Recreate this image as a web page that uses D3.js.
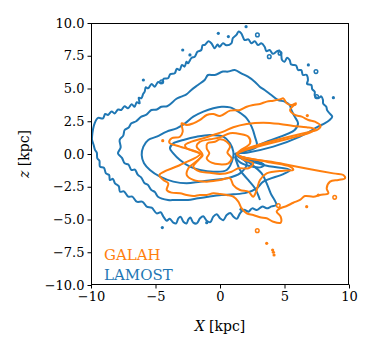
<!DOCTYPE html>
<html lang="en">
<head>
<meta charset="UTF-8">
<title>GALAH vs LAMOST</title>
<style>
	body { margin: 0; background: #fff; }
	text { font-family: "DejaVu Serif", serif; }
</style>
</head>
<body>
<svg id="cont" width="374" height="351"></svg>
<script src="https://cdn.jsdelivr.net/npm/d3@7"></script>
<script>
	// axis ticks
	let xTicks = [-10, -5, 0, 5, 10];
	let zTicks = [-10, -7.5, -5, -2.5, 0, 2.5, 5, 7.5, 10];

	// LAMOST contours, [X, z] in kpc, outer to inner
	let lamost1 = [[-9.92,1.32],[-9.72,2.34],[-9.45,2.75],[-9.07,2.72],[-8.9,3.05],[-8.68,2.98],[-8.4,3.25],[-8.17,3.1],[-7.9,3.4],[-7.65,3.36],[-7.4,3.65],[-7.13,3.49],[-6.85,3.8],[-6.62,3.61],[-6.45,3.95],[-6.23,3.87],[-6.3,4.3],[-6.1,4.25],[-5.95,4.6],[-5.84,4.76],[-5.75,5.1],[-5.58,5.01],[-5.3,5.35],[-5.06,5.14],[-4.8,5.5],[-4.55,5.4],[-4.35,5.75],[-4.03,5.78],[-3.85,6.1],[-3.51,6.16],[-3.35,6.5],[-3.13,6.41],[-2.95,6.8],[-2.74,6.67],[-2.6,7.05],[-2.48,6.92],[-2.2,7.35],[-1.96,7.43],[-1.75,7.8],[-1.45,7.94],[-1.35,8.3],[-1.19,8.32],[-0.9,8.6],[-0.67,8.45],[-0.41,8.07],[-0.2,8.35],[-0.03,8.19],[0.23,8.45],[0.5,8.3],[0.88,8.45],[1.0,8.85],[1.27,9.09],[1.45,9.35],[1.65,9.21],[1.91,8.7],[2.2,8.75],[2.43,8.45],[2.7,8.6],[2.95,8.32],[3.2,8.45],[3.46,8.19],[3.6,7.85],[3.85,7.94],[4.1,7.65],[4.37,7.81],[4.6,7.9],[4.75,7.56],[4.8,7.2],[5.01,7.05],[5.2,7.35],[5.4,7.18],[5.5,6.85],[5.66,6.8],[5.9,6.75],[6.05,6.41],[6.3,6.4],[6.43,6.03],[6.7,6.05],[6.82,5.65],[6.75,5.35],[7.08,5.27],[7.15,4.95],[7.34,4.76],[7.35,4.45],[7.6,4.25],[7.85,4.4],[7.98,4.12],[8.0,3.85],[8.24,3.61],[8.3,3.35],[8.5,3.1],[8.7,2.85],[8.5,2.6],[8.11,2.34],[7.6,2.09],[6.2,1.32],[4.13,0.56],[2.07,0.1],[1.16,0],[2.33,-0.71],[3.23,-1.48],[3.62,-2.24],[3.93,-3.0],[4.37,-3.89],[4.0,-4.0],[3.62,-4.15],[3.3,-4.0],[2.84,-4.28],[2.5,-4.15],[2.2,-4.4],[1.85,-4.25],[1.55,-4.53],[1.3,-4.95],[1.03,-4.78],[0.8,-4.5],[0.52,-4.66],[0.25,-5.05],[0,-4.91],[-0.25,-4.6],[-0.52,-4.78],[-0.75,-5.2],[-1.03,-5.09],[-1.3,-4.75],[-1.55,-4.91],[-1.8,-5.3],[-2.07,-5.24],[-2.3,-4.85],[-2.45,-4.99],[-2.6,-5.3],[-2.84,-5.17],[-3.05,-4.8],[-3.23,-4.91],[-3.4,-5.3],[-3.62,-5.24],[-3.9,-4.95],[-4.13,-5.09],[-4.39,-4.78],[-4.6,-4.45],[-4.91,-4.53],[-5.3,-4.1],[-5.68,-4.02],[-6.0,-3.65],[-6.46,-3.64],[-6.8,-3.25],[-7.11,-3.26],[-7.45,-2.85],[-7.75,-2.88],[-7.85,-2.45],[-8.14,-2.24],[-8.3,-1.9],[-8.53,-1.99],[-8.6,-1.6],[-8.84,-1.48],[-9.0,-1.05],[-9.3,-0.97],[-9.35,-0.5],[-9.51,-0.33],[-9.55,0.1],[-9.69,0.31],[-9.8,0.7],[-9.92,1.07]];
	let lamost2 = [[-7.91,0.05],[-7.7,0.5],[-7.78,1.07],[-7.5,1.4],[-7.39,1.83],[-7.1,2.0],[-6.87,2.34],[-6.5,2.5],[-6.1,2.85],[-5.7,3.0],[-5.32,3.36],[-4.9,3.4],[-4.55,3.61],[-4.1,3.65],[-3.77,3.87],[-3.4,4.2],[-3.0,4.38],[-2.6,4.55],[-2.22,4.89],[-1.71,5.27],[-1.19,5.65],[-0.93,6.03],[-0.41,6.03],[0.23,6.29],[0.62,6.29],[1.14,6.41],[1.65,6.16],[2.17,5.9],[2.69,5.52],[3.08,5.14],[3.46,4.89],[3.98,4.5],[4.5,4.12],[5.01,4.0],[5.4,3.74],[5.53,3.36],[5.79,2.85],[6.05,2.34],[5.79,1.83],[3.62,0.94],[1.55,0.1],[1.29,-0.05],[3.36,-0.84],[5.43,-1.22],[4.91,-1.53],[3.36,-2.11],[2.84,-2.62],[2.07,-2.95],[1.03,-3.08],[0.1,-3.13],[-0.93,-3.26],[-1.71,-3.38],[-2.48,-3.51],[-3.0,-3.51],[-3.51,-3.51],[-4.03,-3.51],[-4.81,-3.26],[-5.05,-2.9],[-5.32,-2.75],[-5.6,-2.35],[-5.84,-2.24],[-6.1,-1.8],[-6.36,-1.6],[-6.6,-1.2],[-6.87,-1.22],[-7.1,-0.8],[-7.39,-0.71],[-7.6,-0.3]];
	let lamost3 = [[-6.07,-0.08],[-5.94,0.56],[-5.56,1.07],[-4.91,1.32],[-4.13,1.71],[-3.36,1.96],[-2.71,2.34],[-2.07,2.85],[-1.29,3.23],[-0.52,3.49],[0.13,3.61],[0.78,3.56],[1.42,3.23],[2.07,2.72],[2.45,2.09],[2.71,1.32],[2.84,0.56],[1.42,-0.03],[2.07,-0.71],[1.55,-1.48],[0.52,-1.86],[-0.52,-1.98],[-1.55,-2.11],[-2.58,-2.24],[-3.62,-2.11],[-4.65,-1.73],[-5.43,-1.22],[-5.89,-0.71]];
	let lamost4 = [[-3.88,0.43],[-3.62,0.81],[-2.84,1.07],[-1.81,1.32],[-0.78,1.45],[0.26,1.32],[0.78,0.81],[1.03,0.18],[1.03,-0.2],[0.52,-1.22],[-0.52,-1.35],[-1.55,-1.22],[-2.33,-0.97],[-3.1,-0.46],[-3.62,0.05]];
	let lamost5 = [[1.2,-0.15],[2.3,-0.4],[3.4,-0.8],[3.2,-1.0],[2.2,-0.9],[1.5,-0.6]];
	let lamostTail = [[1.16,-0.2],[1.55,-1.22],[2.2,-2.0],[2.71,-2.62],[3.1,-3.51]];
	let lamostDots = [[2.02,9.72],[-0.13,9.21],[0.65,8.96],[-2.89,7.94],[-2.33,7.56],[-5.94,5.65],[6.85,6.8],[8.79,4.3],[-4.47,-5.62],[-1.03,-5.24],[1.63,-4.22]];
	let lamostRings = [[2.9,9.09],[4.65,7.69],[3.82,7.43],[-4.52,5.52],[7.44,6.29],[7.49,4.38]];

	// GALAH contours
	let galah1 = [[-2.97,2.34],[-2.58,2.21],[-2.07,2.34],[-1.55,2.6],[-1.03,2.98],[-0.52,3.05],[0,2.9],[0.78,3.31],[1.55,3.36],[2.07,3.61],[2.58,3.74],[3.1,3.82],[3.62,4.0],[4.13,4.07],[4.65,4.17],[4.91,4.25],[5.17,3.87],[5.56,3.74],[5.89,3.87],[5.43,3.36],[5.81,2.98],[6.33,2.85],[6.85,2.6],[7.36,2.47],[7.8,2.14],[7.49,1.83],[6.98,1.71],[1.29,0],[4.91,-0.76],[8.79,-1.48],[9.56,-1.6],[9.69,-1.86],[9.17,-1.98],[8.53,-2.11],[8.27,-2.62],[8.4,-3.0],[7.75,-3.13],[7.24,-3.26],[6.59,-3.21],[6.2,-3.51],[5.68,-3.72],[5.17,-3.97],[4.65,-4.15],[4.39,-4.4],[4.7,-4.78],[4.7,-5.24],[4.13,-5.17],[3.62,-4.91],[3.1,-4.83],[2.58,-4.66],[2.07,-4.53],[1.68,-4.15],[1.42,-3.64],[1.03,-3.26],[0.52,-3.13],[0,-3.05],[-0.52,-3.0],[-1.03,-3.13],[-1.55,-3.13],[-2.07,-3.21],[-2.58,-3.13],[-3.1,-3.0],[-3.75,-2.95],[-4.13,-2.75],[-4.01,-2.24],[-4.39,-1.98],[-4.7,-1.6],[-3.1,-0.84],[-1.55,0],[-3.1,0.56],[-3.93,0.87],[-3.75,1.2],[-3.1,1.32],[-2.89,1.71]];
	let galah2 = [[-2.71,0.69],[-2.2,0.94],[-1.29,1.2],[-0.52,1.45],[0.26,1.71],[1.03,2.04],[2.07,2.29],[3.36,2.39],[4.65,2.29],[5.68,2.14],[6.72,2.04],[7.36,1.88],[6.98,1.63],[1.34,-0.03],[3.62,-0.59],[5.43,-0.97],[5.68,-1.22],[4.91,-1.27],[3.62,-1.48],[3.1,-1.98],[2.84,-2.75],[2.58,-3.26],[2.2,-2.88],[1.55,-2.75],[1.03,-2.37],[0.78,-1.86],[0,-1.98],[-1.03,-2.11],[-2.07,-1.98],[-2.58,-1.6],[-2.45,-1.09],[-1.42,-0.1],[-2.58,0.43]];
	let galah3 = [[-1.81,0.56],[-1.55,0.94],[-0.78,1.12],[0,1.27],[0.78,1.58],[1.55,1.53],[2.2,1.32],[2.33,0.81],[1.55,0.25],[1.34,0],[1.81,-0.41],[2.58,-0.71],[2.2,-1.09],[1.42,-1.09],[0.9,-1.35],[0,-1.53],[-0.78,-1.43],[-1.55,-1.35],[-2.07,-0.97],[-1.68,-0.46],[-1.34,-0.08],[-1.55,0.25]];
	let galah4 = [[-1.03,0.43],[-0.98,0.81],[-0.39,0.94],[0,1.12],[0.52,0.94],[0.78,0.56],[0.57,0.1],[0.9,-0.33],[0.65,-0.71],[0,-0.79],[-0.65,-0.66],[-1.03,-0.33],[-0.83,0.05]];
	let galahDots = [[-4.44,1.02],[5.81,3.79],[6.77,2.93],[7.62,-3.13],[6.72,-4.02],[3.62,-6.82],[4.08,-7.33],[4.14,-7.5],[4.19,-7.71]];
	let galahRings = [[8.89,-3.31],[4.52,-3.94],[2.89,-5.85]];

	let names = ["GALAH", "LAMOST"];
	let colors = ["#ff7f0e", "#1f77b4"];

	let svg = d3.select("#cont");
	let mLeft = 91, mRight = 349, mTop = 23, mBottom = 285;

	let x = d3.scaleLinear().domain([-10, 10]).range([mLeft, mRight]);
	let y = d3.scaleLinear().domain([-10, 10]).range([mBottom, mTop]);

	svg.append("clipPath").attr("id", "clip")
		.append("rect")
		.attr("x", mLeft).attr("y", mTop)
		.attr("width", mRight - mLeft).attr("height", mBottom - mTop);

	let body = svg.append("g").attr("clip-path", "url(#clip)");

	let ring = d3.line()
		.x(d => x(d[0]))
		.y(d => y(d[1]))
		.curve(d3.curveCatmullRomClosed.alpha(0.5));
	let open = d3.line()
		.x(d => x(d[0]))
		.y(d => y(d[1]))
		.curve(d3.curveCatmullRom.alpha(0.5));

	function drawSet(levels, tails, dots, rings, color)
	{
		body.selectAll(null)
			.data(levels)
			.enter()
			.append("path")
			.attr("d", ring)
			.attr("fill", "none")
			.attr("stroke", color)
			.attr("stroke-width", 2)
			.attr("stroke-linejoin", "round");
		body.selectAll(null)
			.data(tails)
			.enter()
			.append("path")
			.attr("d", open)
			.attr("fill", "none")
			.attr("stroke", color)
			.attr("stroke-width", 2);
		body.selectAll(null)
			.data(dots)
			.enter()
			.append("circle")
			.attr("cx", d => x(d[0]))
			.attr("cy", d => y(d[1]))
			.attr("r", 1.6)
			.attr("fill", color);
		body.selectAll(null)
			.data(rings)
			.enter()
			.append("circle")
			.attr("cx", d => x(d[0]))
			.attr("cy", d => y(d[1]))
			.attr("r", 1.8)
			.attr("fill", "none")
			.attr("stroke", color)
			.attr("stroke-width", 1.5);
	}

	drawSet([lamost1, lamost2, lamost3, lamost4, lamost5], [lamostTail], lamostDots, lamostRings, colors[1]);
	drawSet([galah1, galah2, galah3, galah4], [], galahDots, galahRings, colors[0]);

	// frame
	svg.append("rect")
		.attr("x", mLeft + 0.5).attr("y", mTop + 0.5)
		.attr("width", mRight - mLeft - 1).attr("height", mBottom - mTop - 1)
		.attr("fill", "none").attr("stroke", "#000").attr("stroke-width", 1);

	let xaxis = d3.axisBottom(x).tickValues(xTicks).tickSize(4).tickPadding(3).tickFormat(d3.format("d"));
	svg.append("g")
		.attr("transform", "translate(0," + (mBottom - 0.5) + ")")
		.call(xaxis)
		.call(g => g.select(".domain").remove())
		.call(g => g.selectAll("text").attr("font-size", 13).attr("font-family", "DejaVu Serif").attr("fill", "#000"));

	let yaxis = d3.axisLeft(y).tickValues(zTicks).tickSize(4).tickPadding(3).tickFormat(d3.format(".1f"));
	svg.append("g")
		.attr("transform", "translate(" + (mLeft + 0.5) + ",0)")
		.call(yaxis)
		.call(g => g.select(".domain").remove())
		.call(g => g.selectAll("text").attr("font-size", 13).attr("font-family", "DejaVu Serif").attr("fill", "#000"));

	// axis labels
	let xl = svg.append("text")
		.attr("x", (mLeft + mRight) / 2).attr("y", 331)
		.attr("text-anchor", "middle").attr("font-size", 14);
	xl.append("tspan").attr("font-style", "italic").text("X");
	xl.append("tspan").text(" [kpc]");

	let yl = svg.append("text")
		.attr("transform", "translate(29," + ((mTop + mBottom) / 2) + ") rotate(-90)")
		.attr("text-anchor", "middle").attr("font-size", 14);
	yl.append("tspan").attr("font-style", "italic").text("z");
	yl.append("tspan").text(" [kpc]");

	// legend
	svg.selectAll(".leg")
		.data(names)
		.enter()
		.append("text")
		.attr("class", "leg")
		.attr("x", 104)
		.attr("y", (d, i) => 260 + i * 20)
		.attr("font-size", 15)
		.attr("fill", (d, i) => colors[i])
		.text(d => d);
</script>
</body>
</html>
